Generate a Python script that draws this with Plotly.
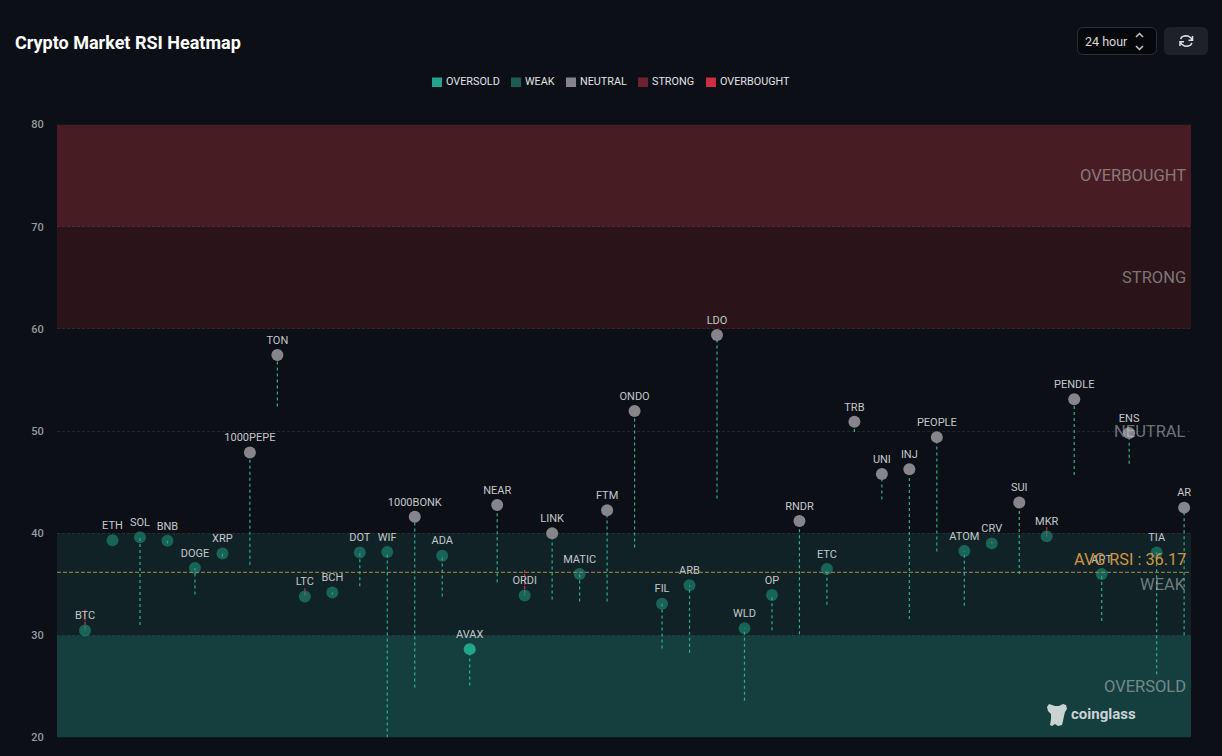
import plotly.graph_objects as go

W, H = 1222, 756
BG = "#0c0f16"
FONT = "Roboto"

symbols = ["BTC","ETH","SOL","BNB","DOGE","XRP","1000PEPE","TON","LTC","BCH","DOT","WIF","1000BONK","ADA","AVAX","NEAR","ORDI","LINK","MATIC","FTM","ONDO","FIL","ARB","LDO","WLD","OP","RNDR","ETC","TRB","UNI","INJ","PEOPLE","ATOM","CRV","SUI","MKR","PENDLE","APT","ENS","TIA","AR"]
rsi_now = [30.47,39.3,39.6,39.25,36.6,38.0,47.9,57.45,33.8,34.2,38.1,38.15,41.6,37.8,28.65,42.75,33.9,40.0,36.0,42.25,51.95,33.1,34.9,59.4,30.7,33.95,41.2,36.5,50.9,45.8,46.25,49.4,38.25,39.0,43.0,39.7,53.1,36.0,49.8,38.1,42.5]
rsi_prev = [32.5,39.3,31.0,39.0,34.0,37.7,36.9,52.4,34.6,34.0,34.8,20.0,24.9,33.8,25.1,35.2,36.4,33.5,33.3,33.3,38.6,28.7,28.3,43.4,23.6,30.5,30.1,33.0,49.9,43.3,31.6,38.2,32.9,39.2,36.0,40.6,45.7,31.4,46.8,26.2,30.0]

avg_rsi = 36.17
zone_names = ["OVERSOLD","WEAK","NEUTRAL","STRONG","OVERBOUGHT"]
zone_low = [20,30,40,60,70]
zone_high = [30,40,60,70,80]
zone_fill = ["#153f3f","#102226",None,"#2b1419","#471c23"]
legend_colors = ["#22a58a","#1c5c54","#86868a","#6b2230","#c92f41"]
legend_left = [432,511,566,638,706]
marker_colors = ["#22a58a","rgba(34,165,138,0.5)","#86868a","#6b2230","#c92f41"]
zone_label_color = "rgba(205,210,210,0.52)"

def px(x): return x / W
def py(y): return 1 - y / H

def zone_index(v):
    for i, hi in enumerate(zone_high):
        if v < hi:
            return i
    return 4

fig = go.Figure()

# tails: rising (teal) and falling (red)
up_x, up_y, dn_x, dn_y = [], [], [], []
for s, n, p in zip(symbols, rsi_now, rsi_prev):
    if n >= p:
        up_x += [s, s, None]; up_y += [p, n, None]
    else:
        dn_x += [s, s, None]; dn_y += [p, n, None]
fig.add_trace(go.Scatter(x=up_x, y=up_y, mode="lines", showlegend=False, hoverinfo="skip",
                         line=dict(color="#2fae98", width=1.2, dash="3px,3px")))
fig.add_trace(go.Scatter(x=dn_x, y=dn_y, mode="lines", showlegend=False, hoverinfo="skip",
                         line=dict(color="#c92f41", width=1.2, dash="3px,1px")))

# points by zone
for i, name in enumerate(zone_names):
    xs = [s for s, v in zip(symbols, rsi_now) if zone_index(v) == i]
    ys = [v for v in rsi_now if zone_index(v) == i]
    if not xs:
        continue
    fig.add_trace(go.Scatter(x=xs, y=ys, text=xs, mode="markers+text", textposition="top center",
                             textfont=dict(size=11, color="#c4c7ca", family=FONT),
                             marker=dict(size=12, color=marker_colors[i]), showlegend=False,
                             name=name, cliponaxis=False))

shapes = []
for lo, hi, fill in zip(zone_low, zone_high, zone_fill):
    if fill:
        shapes.append(dict(type="rect", xref="x domain", yref="y", x0=0, x1=1, y0=lo, y1=hi,
                           fillcolor=fill, line_width=0, layer="below"))
shapes.append(dict(type="line", xref="x domain", yref="y", x0=0, x1=1, y0=avg_rsi, y1=avg_rsi,
                   line=dict(color="#a8894a", width=1, dash="4px,2px"), layer="above"))

annotations = []
for name, lo, hi in zip(zone_names, zone_low, zone_high):
    annotations.append(dict(text=name, xref="paper", yref="y", x=px(1188), y=(lo + hi) / 2, xanchor="right",
                            yanchor="middle", showarrow=False,
                            font=dict(size=16.5, color=zone_label_color, family=FONT)))
annotations.append(dict(text=f"AVG RSI : {avg_rsi}", xref="paper", yref="y", x=px(1188), y=avg_rsi, xanchor="right",
                        yanchor="bottom", yshift=1, showarrow=False, font=dict(size=16.3, color="#d4953f", family=FONT)))
annotations.append(dict(text="<b>Crypto Market RSI Heatmap</b>", xref="paper", yref="paper", x=px(13), y=py(42),
                        xanchor="left", yanchor="middle", showarrow=False,
                        font=dict(size=18, color="#ffffff", family=FONT)))
annotations.append(dict(text="24 hour", xref="paper", yref="paper", x=px(1083), y=py(41.5), xanchor="left",
                        yanchor="middle", showarrow=False, font=dict(size=12.5, color="#d5d7da", family=FONT)))
annotations.append(dict(text="<b>coinglass</b>", xref="paper", yref="paper", x=px(1069), y=py(714), xanchor="left",
                        yanchor="middle", showarrow=False, font=dict(size=15, color="#c9d3d3", family=FONT)))

# legend row
for name, left, col in zip(zone_names, legend_left, legend_colors):
    shapes.append(dict(type="rect", xref="paper", yref="paper", x0=px(left), x1=px(left + 10), y0=py(87), y1=py(77.5),
                       fillcolor=col, line_width=0, layer="above"))
    annotations.append(dict(text=name, xref="paper", yref="paper", x=px(left + 12), y=py(81.5), xanchor="left",
                            yanchor="middle", showarrow=False, font=dict(size=10.8, color="#e0e2e4", family=FONT)))

def path(points, close=False):
    d = "M" + " L".join(f"{px(x):.5f},{py(y):.5f}" for x, y in points)
    return d + (" Z" if close else "")

def rrect(x0, y0, x1, y1, r):
    return ("M{:.5f},{:.5f} L{:.5f},{:.5f} Q{:.5f},{:.5f} {:.5f},{:.5f} L{:.5f},{:.5f} Q{:.5f},{:.5f} {:.5f},{:.5f} "
            "L{:.5f},{:.5f} Q{:.5f},{:.5f} {:.5f},{:.5f} L{:.5f},{:.5f} Q{:.5f},{:.5f} {:.5f},{:.5f} Z").format(
        px(x0+r),py(y0), px(x1-r),py(y0), px(x1),py(y0), px(x1),py(y0+r),
        px(x1),py(y1-r), px(x1),py(y1), px(x1-r),py(y1),
        px(x0+r),py(y1), px(x0),py(y1), px(x0),py(y1-r),
        px(x0),py(y0+r), px(x0),py(y0), px(x0+r),py(y0))

def deco(d, fill=None, line=None, lw=1.5):
    shapes.append(dict(type="path", xref="paper", yref="paper", path=d,
                       fillcolor=fill or "rgba(0,0,0,0)", line=dict(color=line or "rgba(0,0,0,0)", width=lw), layer="above"))

# select box and refresh button
deco(rrect(1077.5, 27.5, 1156.5, 54.5, 6), fill="#05070b", line="#2c2f37", lw=1)
deco(path([(1136, 37), (1139.5, 33.5), (1143, 37)]), line="#c5c7ca")
deco(path([(1136, 46), (1139.5, 49.5), (1143, 46)]), line="#c5c7ca")
deco(rrect(1164, 27, 1208, 55, 6), fill="#1e2129")
deco(path([(1180.5, 39), (1182, 36.8), (1185, 35.8), (1188, 36), (1191, 38), (1192, 40)]), line="#dfe1e4")
deco(path([(1192, 43), (1190.5, 45.2), (1187.5, 46.2), (1184.5, 46), (1181.5, 44), (1180.5, 42)]), line="#dfe1e4")
deco(path([(1192.5, 36), (1192.5, 40.3), (1188.5, 40.3)]), line="#dfe1e4")
deco(path([(1180, 46), (1180, 41.7), (1184, 41.7)]), line="#dfe1e4")

# coinglass mascot
deco(path([(1047,707),(1049,704),(1052,705),(1055,706),(1059,706),(1063,704),(1066,705),(1067,709),(1065,712),
           (1064,716),(1063,721),(1062,725),(1058,726),(1055,724),(1052,726),(1050,725),(1051,719),(1051,714),(1048,711)],
          close=True), fill="#c9d3d3")

fig.update_layout(
    width=W, height=H, margin=dict(l=0, r=0, t=0, b=0, autoexpand=False),
    paper_bgcolor=BG, plot_bgcolor=BG, font=dict(family=FONT, color="#c4c7ca"),
    showlegend=False,
    shapes=shapes, annotations=annotations,
    xaxis=dict(domain=[px(57), px(1191)], type="category", categoryorder="array", categoryarray=symbols,
               range=[-1.02, 40.25], visible=False),
    yaxis=dict(domain=[py(737.5), py(124.5)], range=[20, 80], dtick=10, tick0=20, showgrid=True,
               griddash="3px,2px", gridcolor="rgba(120,125,135,0.2)", gridwidth=1, zeroline=False, showline=False,
               ticks="outside", ticklen=10, tickcolor="rgba(0,0,0,0)",
               tickfont=dict(size=11, color="#96999e", family=FONT, weight=500)),
)

fig.write_html("out.html", post_script="document.body.style.margin='0';document.body.style.background='%s';" % BG,
               config=dict(displayModeBar=False))
